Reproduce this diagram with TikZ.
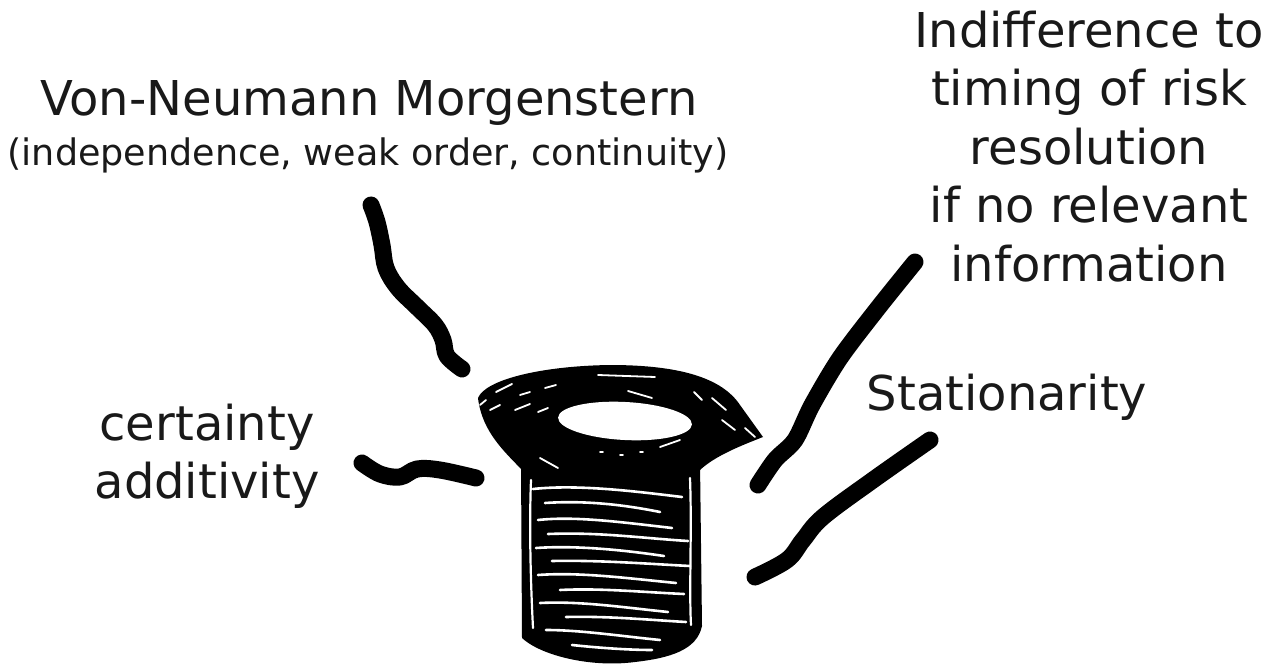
\documentclass[tikz,border=0pt]{standalone}
\usepackage{fontspec}
\setmainfont{DejaVu Sans}
\begin{document}
\begin{tikzpicture}[x=1pt,y=-1pt,
  label/.style={inner sep=0pt,outer sep=0pt,text=black!90,font=\fontsize{48}{58.5}\selectfont},
  sublabel/.style={inner sep=0pt,outer sep=0pt,text=black!90,font=\fontsize{36.5}{43}\selectfont},
  marker/.style={line width=17pt,line cap=round,line join=round,black},
  thread/.style={white,line width=2.6pt,line cap=round},
  speck/.style={white,line width=1.8pt,line cap=round}]
\useasboundingbox (0,0) rectangle (1272,671);
\fill[white] (0,0) rectangle (1272,671);

% ---- labels ----
\node[label,anchor=base] (vnm) at (369,116) {Von-Neumann Morgenstern};
\node[sublabel,anchor=base] (vnmsub) at (368,166) {(independence, weak order, continuity)};
\node[label,anchor=north,align=center] (indiff) at (1089,11)
  {Indifference to\\timing of risk\\resolution\\if no relevant\\information};
\node[label,anchor=base] (stat) at (1007,410) {Stationarity};
\node[label,anchor=north,align=center] (cert) at (207,404) {certainty\\additivity};

% ---- the screw: threaded body ----
\fill[black] (521,462) -- (522,638)
  .. controls (540,655) and (590,668) .. (635,662)
  .. controls (670,658) and (697,650) .. (702,626) -- (700,462) -- cycle;
% thread highlights
\draw[thread] (533,489) .. controls (580,484) and (640,492) .. (682,497);
\draw[thread] (545,503) .. controls (590,500) and (630,506) .. (660,512);
\draw[thread] (538,520) .. controls (575,516) and (620,522) .. (672,528);
\draw[thread] (548,534) .. controls (600,532) and (640,538) .. (688,541);
\draw[thread] (536,548) .. controls (580,545) and (630,551) .. (664,556);
\draw[thread] (552,561) .. controls (600,560) and (650,564) .. (690,566);
\draw[thread] (538,575) .. controls (580,572) and (625,578) .. (676,583);
\draw[thread] (560,590) .. controls (600,588) and (640,592) .. (684,594);
\draw[thread] (540,603) .. controls (580,601) and (620,607) .. (668,612);
\draw[thread] (566,617) .. controls (610,616) and (650,620) .. (686,622);
\draw[thread] (546,630) .. controls (580,630) and (620,636) .. (660,640);
\draw[thread] (572,645) .. controls (600,648) and (630,650) .. (652,650);
% body outline highlights
\draw[thread,line width=2.2pt] (531,480) .. controls (529,530) and (531,590) .. (533,628);
\draw[thread,line width=2.2pt] (690,478) .. controls (692,530) and (689,590) .. (691,625);

% ---- the screw: flange ----
\fill[black] (478,398) .. controls (485,380) and (540,366) .. (610,365)
  .. controls (680,365) and (722,378) .. (740,405) -- (763,437)
  .. controls (740,446) and (715,456) .. (700,470)
  .. controls (650,480) and (570,480) .. (522,470)
  .. controls (505,452) and (482,432) .. (478,398) -- cycle;
\fill[white,rotate around={-3:(625,421)}] (625,421) ellipse [x radius=67, y radius=19];
% flange scribble highlights
\draw[speck] (598,375) -- (655,377);
\draw[speck] (628,391) -- (652,398);
\draw[speck] (496,392) -- (512,384);
\draw[speck] (520,395) -- (530,392);
\draw[speck] (545,388) -- (556,385);
\draw[speck] (490,410) -- (500,405);
\draw[speck] (515,410) -- (530,404);
\draw[speck] (538,412) -- (548,408);
\draw[speck] (694,392) -- (702,400);
\draw[speck] (712,398) -- (726,410);
\draw[speck] (722,420) -- (735,430);
\draw[speck] (745,428) -- (755,437);
\draw[speck] (480,405) -- (486,400);
\draw[speck] (540,458) -- (558,468);
\draw[speck] (600,452) -- (603,452);
\draw[speck] (620,455) -- (623,455);
\draw[speck] (640,452) -- (643,452);
\draw[speck] (660,447) -- (680,440);

% ---- connectors ----
\coordinate (vnmEnd) at (462,369);
\coordinate (certEnd) at (476,478);
\coordinate (indiffEnd) at (758,485);
\coordinate (statEnd) at (755,577);
\draw[marker] plot[smooth,tension=0.6] coordinates
  {(371,205) (377,222) (382,245) (386,268) (398,288) (417,307) (435,325) (443,340) (447,356) (vnmEnd)};
\draw[marker] plot[smooth,tension=0.6] coordinates
  {(362,463) (380,474) (400,477) (417,469) (440,470) (certEnd)};
\draw[marker] plot[smooth,tension=0.5] coordinates
  {(915,262) (878,308) (840,358) (812,405) (795,440) (775,460) (indiffEnd)};
\draw[marker] plot[smooth,tension=0.6] coordinates
  {(930,440) (873,480) (823,517) (803,540) (787,560) (statEnd)};
\end{tikzpicture}
\end{document}
